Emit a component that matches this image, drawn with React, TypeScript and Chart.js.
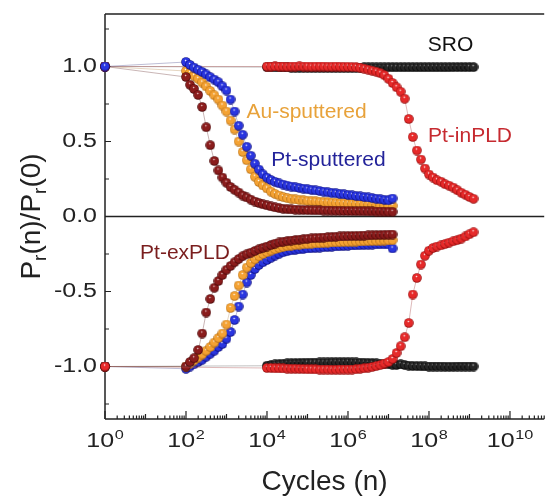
import { useEffect, useRef } from 'react';
import { Chart, registerables } from 'chart.js';

Chart.register(...registerables);

// ---------- data ----------
const cyclesSputter = [
  1,
  1.0e2, 1.26e2, 1.58e2, 2.0e2, 2.51e2, 3.16e2, 3.98e2, 5.01e2, 6.31e2, 7.94e2,
  1.0e3, 1.26e3, 1.58e3, 2.0e3, 2.51e3, 3.16e3, 3.98e3, 5.01e3, 6.31e3, 7.94e3,
  1.0e4, 1.26e4, 1.58e4, 2.0e4, 2.51e4, 3.16e4, 3.98e4, 5.01e4, 6.31e4, 7.94e4,
  1.0e5, 1.26e5, 1.58e5, 2.0e5, 2.51e5, 3.16e5, 3.98e5, 5.01e5, 6.31e5, 7.94e5,
  1.0e6, 1.26e6, 1.58e6, 2.0e6, 2.51e6, 3.16e6, 3.98e6, 5.01e6, 6.31e6, 7.94e6,
  1.0e7, 1.26e7,
];

const cyclesPLD = [
  1,
  1.0e4, 1.26e4, 1.58e4, 2.0e4, 2.51e4, 3.16e4, 3.98e4, 5.01e4, 6.31e4, 7.94e4,
  1.0e5, 1.26e5, 1.58e5, 2.0e5, 2.51e5, 3.16e5, 3.98e5, 5.01e5, 6.31e5, 7.94e5,
  1.0e6, 1.26e6, 1.58e6, 2.0e6, 2.51e6, 3.16e6, 3.98e6, 5.01e6, 6.31e6, 7.94e6,
  1.0e7, 1.26e7, 1.58e7, 2.0e7, 2.51e7, 3.16e7, 3.98e7, 5.01e7, 6.31e7, 7.94e7,
  1.0e8, 1.26e8, 1.58e8, 2.0e8, 2.51e8, 3.16e8, 3.98e8, 5.01e8, 6.31e8, 7.94e8,
  1.0e9, 1.26e9,
];

const ptSputteredPos = [
  1.0,
  1.03, 1.01, 0.993, 0.978, 0.964, 0.947, 0.929, 0.913, 0.895, 0.868,
  0.84, 0.78, 0.70, 0.605, 0.545, 0.465, 0.405, 0.352, 0.313, 0.281,
  0.259, 0.243, 0.231, 0.221, 0.213, 0.206, 0.2, 0.195, 0.19, 0.186,
  0.182, 0.178, 0.174, 0.17, 0.166, 0.162, 0.158, 0.155, 0.151, 0.148,
  0.144, 0.141, 0.137, 0.134, 0.13, 0.127, 0.123, 0.119, 0.115, 0.111,
  0.108, 0.12,
];
const ptSputteredNeg = [
  -1.0,
  -1.015, -1.0, -0.985, -0.97, -0.955, -0.935, -0.915, -0.895, -0.87, -0.85,
  -0.815, -0.77, -0.69, -0.6, -0.52, -0.44, -0.39, -0.35, -0.323, -0.305,
  -0.29, -0.275, -0.26, -0.248, -0.238, -0.231, -0.226, -0.222, -0.219, -0.216,
  -0.213, -0.211, -0.209, -0.207, -0.205, -0.203, -0.201, -0.199, -0.198, -0.196,
  -0.195, -0.193, -0.192, -0.191, -0.189, -0.188, -0.187, -0.186, -0.185, -0.185,
  -0.186, -0.213,
];
const auSputteredPos = [
  1.0,
  0.97, 0.957, 0.938, 0.918, 0.893, 0.867, 0.837, 0.808, 0.78, 0.74,
  0.7, 0.64, 0.58, 0.5, 0.43, 0.375, 0.315, 0.265, 0.23, 0.207,
  0.187, 0.166, 0.151, 0.14, 0.13, 0.123, 0.118, 0.114, 0.111, 0.108,
  0.105, 0.103, 0.101, 0.099, 0.097, 0.095, 0.093, 0.091, 0.089, 0.088,
  0.086, 0.085, 0.083, 0.082, 0.08, 0.079, 0.077, 0.076, 0.075, 0.073,
  0.072, 0.071,
];
const auSputteredNeg = [
  -1.0,
  -1.0, -0.98, -0.96, -0.94, -0.92, -0.895, -0.87, -0.84, -0.81, -0.78,
  -0.72, -0.61, -0.53, -0.46, -0.39, -0.34, -0.31, -0.285, -0.265, -0.25,
  -0.238, -0.227, -0.218, -0.21, -0.203, -0.198, -0.194, -0.19, -0.187, -0.185,
  -0.183, -0.181, -0.179, -0.178, -0.176, -0.175, -0.173, -0.172, -0.171, -0.17,
  -0.169, -0.168, -0.167, -0.166, -0.165, -0.164, -0.163, -0.162, -0.161, -0.16,
  -0.159, -0.158,
];
const ptExPLDPos = [
  1.0,
  0.93, 0.878, 0.85, 0.81, 0.73, 0.595, 0.475, 0.37, 0.307, 0.26,
  0.225, 0.197, 0.178, 0.16, 0.14, 0.127, 0.113, 0.1, 0.09, 0.081,
  0.074, 0.067, 0.061, 0.056, 0.052, 0.049, 0.047, 0.046, 0.045, 0.044,
  0.043, 0.042, 0.042, 0.041, 0.04, 0.04, 0.039, 0.038, 0.038, 0.037,
  0.037, 0.036, 0.036, 0.035, 0.035, 0.034, 0.034, 0.033, 0.033, 0.032,
  0.032, 0.031,
];
const ptExPLDNeg = [
  -1.0,
  -1.0, -0.97, -0.945, -0.89, -0.78, -0.64, -0.55, -0.475, -0.43, -0.39,
  -0.355, -0.33, -0.305, -0.283, -0.265, -0.252, -0.241, -0.23, -0.218, -0.209,
  -0.2, -0.19, -0.181, -0.173, -0.168, -0.164, -0.16, -0.157, -0.154, -0.151,
  -0.148, -0.146, -0.144, -0.142, -0.14, -0.138, -0.136, -0.135, -0.133, -0.132,
  -0.131, -0.13, -0.129, -0.128, -0.127, -0.126, -0.125, -0.124, -0.123, -0.122,
  -0.121, -0.12,
];
const ptInPLDPos = [
  1.0,
  1.0, 1.0, 1.001, 1.0, 1.0, 0.999, 1.0, 1.0, 1.001, 1.0,
  1.0, 0.999, 1.0, 1.0, 1.0, 0.999, 0.999, 1.0, 0.999, 0.998,
  0.998, 0.997, 0.995, 0.992, 0.986, 0.979, 0.972, 0.965, 0.955, 0.942,
  0.918, 0.89, 0.862, 0.832, 0.785, 0.65, 0.53, 0.44, 0.38, 0.32,
  0.28, 0.26, 0.242, 0.232, 0.215, 0.205, 0.193, 0.175, 0.158, 0.145,
  0.13, 0.118,
];
const ptInPLDNeg = [
  -1.0,
  -1.01, -1.01, -1.012, -1.012, -1.013, -1.014, -1.015, -1.015, -1.016, -1.017,
  -1.018, -1.018, -1.019, -1.02, -1.02, -1.02, -1.021, -1.021, -1.02, -1.02,
  -1.02, -1.02, -1.018, -1.015, -1.012, -1.008, -1.003, -0.997, -0.99, -0.98,
  -0.97, -0.95, -0.91, -0.865, -0.805, -0.71, -0.52, -0.41, -0.32, -0.262,
  -0.228, -0.21, -0.2, -0.192, -0.183, -0.174, -0.165, -0.157, -0.147, -0.133,
  -0.118, -0.105,
];
const sroPos = [
  1.0,
  0.996, 0.995, 0.995, 0.994, 0.994, 0.994, 0.993, 0.993, 0.993, 0.993,
  0.992, 0.992, 0.992, 0.992, 0.992, 0.992, 0.992, 0.993, 0.993, 0.993,
  0.993, 0.993, 0.993, 0.993, 0.994, 0.994, 0.994, 0.994, 0.994, 0.994,
  0.995, 0.995, 0.995, 0.995, 0.995, 0.995, 0.995, 0.995, 0.995, 0.995,
  0.995, 0.995, 0.995, 0.995, 0.995, 0.995, 0.996, 0.996, 0.996, 0.996,
  0.996, 0.996,
];
const sroNeg = [
  -1.0,
  -0.995, -0.99, -0.986, -0.983, -0.981, -0.979, -0.978, -0.977, -0.976, -0.975,
  -0.975, -0.974, -0.974, -0.973, -0.973, -0.973, -0.972, -0.972, -0.972, -0.972,
  -0.972, -0.973, -0.973, -0.974, -0.975, -0.976, -0.977, -0.979, -0.981, -0.983,
  -0.985, -0.988, -0.99, -0.985, -0.99, -0.994, -0.996, -0.997, -0.998, -0.999,
  -1.0, -1.0, -1.0, -1.0, -1.001, -1.001, -1.001, -1.0, -1.0, -1.0,
  -1.0, -1.0,
];

const yTickValues = [-1, -0.5, 0, 0.5, 1];
const yMinorValues = [-1.25, -0.75, -0.25, 0.25, 0.75, 1.25];
const xTickExponents = [0, 2, 4, 6, 8, 10];

const seriesLabels = [
  { text: 'SRO', x: 3.4e8, y: 1.143, color: '#111111' },
  { text: 'Au-sputtered', x: 9.5e4, y: 0.697, color: '#e8a23a' },
  { text: 'Pt-sputtered', x: 3.3e5, y: 0.373, color: '#23239a' },
  { text: 'Pt-inPLD', x: 1.03e9, y: 0.533, color: '#c62a30' },
  { text: 'Pt-exPLD', x: 94.6, y: -0.243, color: '#7a1e1e' },
];

const FONT = '"Liberation Sans", Arial, Helvetica, sans-serif';

function sphere(base: string, dark: string, hi = '#ffffff', size = 10) {
  const c = document.createElement('canvas');
  c.width = size;
  c.height = size;
  const g = c.getContext('2d')!;
  const r = size / 2 - 0.2;
  const grad = g.createRadialGradient(size * 0.45, size * 0.32, 0.2, size / 2, size / 2, r);
  grad.addColorStop(0, hi);
  grad.addColorStop(0.22, base);
  grad.addColorStop(0.75, base);
  grad.addColorStop(1, dark);
  g.fillStyle = grad;
  g.beginPath();
  g.arc(size / 2, size / 2, r, 0, Math.PI * 2);
  g.fill();
  return c;
}

const decor = {
  id: 'decor',
  beforeDatasetsDraw(chart: any) {
    const { ctx, chartArea: a, scales } = chart;
    const xs = scales.x;
    const ys = scales.y;
    ctx.save();
    ctx.strokeStyle = '#222';
    ctx.lineWidth = 1.5;
    ctx.beginPath();
    ctx.moveTo(a.left, a.top);
    ctx.lineTo(a.left, a.bottom);
    ctx.moveTo(a.left, a.top);
    ctx.lineTo(a.right, a.top);
    ctx.moveTo(a.left, a.bottom);
    ctx.lineTo(a.right, a.bottom);
    ctx.stroke();
    ctx.lineWidth = 1.3;
    const y0 = ys.getPixelForValue(0);
    ctx.beginPath();
    ctx.moveTo(a.left, y0);
    ctx.lineTo(a.right, y0);
    ctx.stroke();
    // y ticks (inward)
    ctx.lineWidth = 1.2;
    ctx.beginPath();
    for (const v of yTickValues) {
      const p = ys.getPixelForValue(v);
      ctx.moveTo(a.left, p);
      ctx.lineTo(a.left + 6, p);
    }
    for (const v of yMinorValues) {
      const p = ys.getPixelForValue(v);
      ctx.moveTo(a.left, p);
      ctx.lineTo(a.left + 4, p);
    }
    // x ticks (inward)
    for (let e = 0; e <= 11; e++) {
      const dec = Math.pow(10, e);
      const p = xs.getPixelForValue(dec);
      if (p <= a.right) {
        const len = e % 2 === 0 ? 8 : 5;
        ctx.moveTo(p, a.bottom);
        ctx.lineTo(p, a.bottom - len);
      }
      for (let m = 2; m <= 9; m++) {
        const q = xs.getPixelForValue(dec * m);
        if (q <= a.right) {
          ctx.moveTo(q, a.bottom);
          ctx.lineTo(q, a.bottom - 3.5);
        }
      }
    }
    ctx.stroke();
    ctx.restore();
  },
  afterDraw(chart: any) {
    const { ctx, chartArea: a, scales } = chart;
    const xs = scales.x;
    const ys = scales.y;
    const sx = 1.25;
    ctx.save();
    ctx.fillStyle = '#222';
    // y tick labels
    ctx.font = `20px ${FONT}`;
    ctx.textAlign = 'right';
    ctx.textBaseline = 'middle';
    for (const v of yTickValues) {
      const p = ys.getPixelForValue(v);
      ctx.save();
      ctx.translate(a.left - 8, p);
      ctx.scale(sx, 1);
      ctx.fillText(v.toFixed(1), 0, 0);
      ctx.restore();
    }
    // x tick labels 10^n
    ctx.textAlign = 'left';
    ctx.textBaseline = 'alphabetic';
    for (const e of xTickExponents) {
      const p = xs.getPixelForValue(Math.pow(10, e));
      ctx.font = `20px ${FONT}`;
      const wb = ctx.measureText('10').width;
      ctx.font = `13px ${FONT}`;
      const ws = ctx.measureText(String(e)).width;
      const total = (wb + ws + 0.5) * sx;
      ctx.save();
      ctx.translate(p - total / 2, a.bottom + 28);
      ctx.scale(sx, 1);
      ctx.font = `20px ${FONT}`;
      ctx.fillText('10', 0, 0);
      ctx.font = `13px ${FONT}`;
      ctx.fillText(String(e), wb + 0.5, -8);
      ctx.restore();
    }
    // x title
    ctx.font = `28px ${FONT}`;
    ctx.textAlign = 'center';
    ctx.fillText('Cycles (n)', (a.left + a.right) / 2, 490);
    // y title with subscripts
    const segs: [string, boolean][] = [
      ['P', false], ['r', true], ['(n)/P', false], ['r', true], ['(0)', false],
    ];
    const big = `28px ${FONT}`;
    const small = `19px ${FONT}`;
    let tot = 0;
    for (const [t, s] of segs) {
      ctx.font = s ? small : big;
      tot += ctx.measureText(t).width;
    }
    ctx.save();
    ctx.translate(40, ys.getPixelForValue(0));
    ctx.rotate(-Math.PI / 2);
    ctx.textAlign = 'left';
    let cx = -tot / 2;
    for (const [t, s] of segs) {
      ctx.font = s ? small : big;
      ctx.fillText(t, cx, s ? 6 : 0);
      cx += ctx.measureText(t).width;
    }
    ctx.restore();
    // series labels
    ctx.font = `21px ${FONT}`;
    ctx.textAlign = 'center';
    ctx.textBaseline = 'middle';
    for (const l of seriesLabels) {
      ctx.fillStyle = l.color;
      ctx.fillText(l.text, xs.getPixelForValue(l.x), ys.getPixelForValue(l.y));
    }
    ctx.restore();
  },
};

export default function App() {
  const ref = useRef<HTMLCanvasElement>(null);
  useEffect(() => {
    document.body.style.margin = '0';
    const canvas = ref.current!;
    const img = {
      blue: sphere('#2a36e0', '#0a0a78'),
      orange: sphere('#f4a233', '#b06a12'),
      darkred: sphere('#8a1c1c', '#440606', '#f0d0d0'),
      red: sphere('#e62a2a', '#8e0a0a'),
      black: sphere('#262626', '#000000', '#d0d0d0'),
    };
    const mk = (label: string, xsArr: number[], ysArr: number[], style: HTMLCanvasElement, line: string) => ({
      label,
      data: xsArr.map((x, i) => ({ x, y: ysArr[i] })),
      showLine: true,
      borderColor: line,
      backgroundColor: line,
      borderWidth: 0.8,
      pointStyle: style,
      pointRadius: 5,
      clip: false as any,
    });
    const chart = new Chart(canvas, {
      type: 'scatter',
      data: {
        datasets: [
          mk('Pt-sputtered +', cyclesSputter, ptSputteredPos, img.blue, 'rgba(90,90,150,0.5)'),
          mk('Pt-inPLD -', cyclesPLD, ptInPLDNeg, img.red, 'rgba(170,80,80,0.5)'),
          mk('Pt-inPLD +', cyclesPLD, ptInPLDPos, img.red, 'rgba(170,80,80,0.5)'),
          mk('SRO +', cyclesPLD, sroPos, img.black, 'rgba(80,80,80,0.45)'),
          mk('SRO -', cyclesPLD, sroNeg, img.black, 'rgba(80,80,80,0.45)'),
          mk('Pt-exPLD +', cyclesSputter, ptExPLDPos, img.darkred, 'rgba(120,70,70,0.5)'),
          mk('Pt-exPLD -', cyclesSputter, ptExPLDNeg, img.darkred, 'rgba(120,70,70,0.5)'),
          mk('Au-sputtered -', cyclesSputter, auSputteredNeg, img.orange, 'rgba(190,150,100,0.5)'),
          mk('Au-sputtered +', cyclesSputter, auSputteredPos, img.orange, 'rgba(190,150,100,0.5)'),
          mk('Pt-sputtered -', cyclesSputter, ptSputteredNeg, img.blue, 'rgba(90,90,150,0.5)'),
        ] as any,
      },
      options: {
        animation: false,
        responsive: false,
        devicePixelRatio: 1,
        events: [],
        layout: { padding: { top: 14, right: 0, left: 0, bottom: 0 } },
        plugins: { legend: { display: false }, tooltip: { enabled: false } },
        scales: {
          x: {
            type: 'logarithmic',
            min: 1,
            max: 7e10,
            ticks: { display: false },
            grid: { display: false, drawTicks: false },
            border: { display: false },
            afterFit: (s: any) => { s.height = 79; },
          },
          y: {
            type: 'linear',
            min: -1.35,
            max: 1.35,
            ticks: { display: false },
            grid: { display: false, drawTicks: false },
            border: { display: false },
            afterFit: (s: any) => { s.width = 105; },
          },
        },
      } as any,
      plugins: [decor],
    });
    return () => chart.destroy();
  }, []);
  return (
    <div style={{ width: 550, height: 498 }}>
      <canvas ref={ref} width={550} height={498} style={{ display: 'block' }} />
    </div>
  );
}
